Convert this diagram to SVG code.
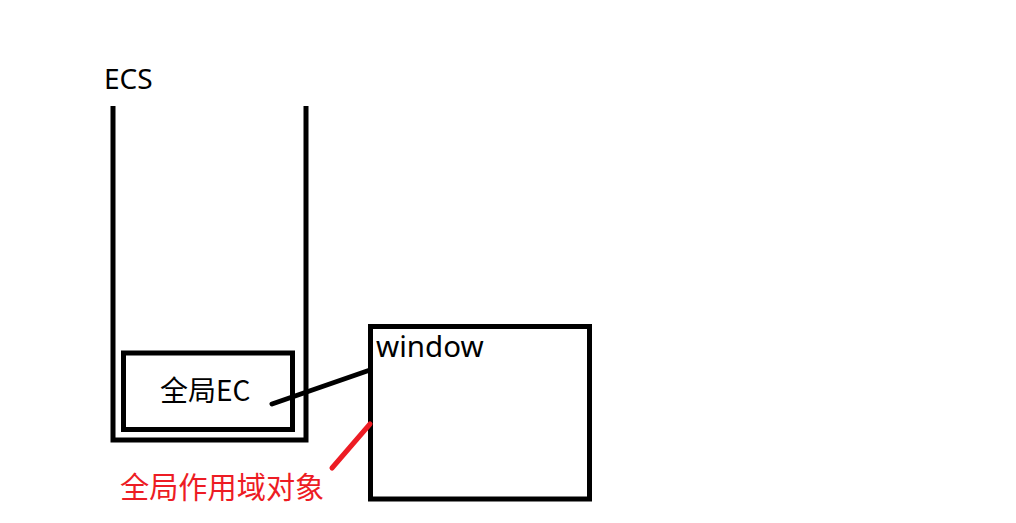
<svg xmlns="http://www.w3.org/2000/svg" width="1016" height="523" viewBox="0 0 1016 523">
<style>
.k{fill:none;stroke:#000;stroke-width:5}
.t{font-family:"Noto Sans","Noto Sans CJK SC",sans-serif;fill:#000}
.c{font-family:"Noto Sans CJK SC","Noto Sans",sans-serif}
</style>
<rect width="1016" height="523" fill="#fff"/>
<g id="ecs">
<path class="k" d="M113,106 V440 H306 V106" stroke-width="5.5"/>
<text class="t" x="104" y="89" font-size="28">ECS</text>
</g>
<g id="globalEC">
<rect class="k" x="123.5" y="353" width="169" height="76.5" stroke-width="6"/>
<text class="t c" x="160" y="401" font-size="28">全局EC</text>
</g>
<g id="window">
<rect class="k" x="370.5" y="326.5" width="219" height="172.5" stroke-width="5.5"/>
<text class="t" x="376" y="357" font-size="29.5">window</text>
</g>
<g id="connectors">
<line x1="272" y1="404" x2="370" y2="370" stroke="#000" stroke-width="5" stroke-linecap="round"/>
<line x1="332" y1="468" x2="370" y2="424" stroke="#ED1C24" stroke-width="5" stroke-linecap="round"/>
</g>
<g id="label">
<text class="c" x="120" y="498" font-size="29.2" fill="#ED1C24">全局作用域对象</text>
</g>
</svg>
